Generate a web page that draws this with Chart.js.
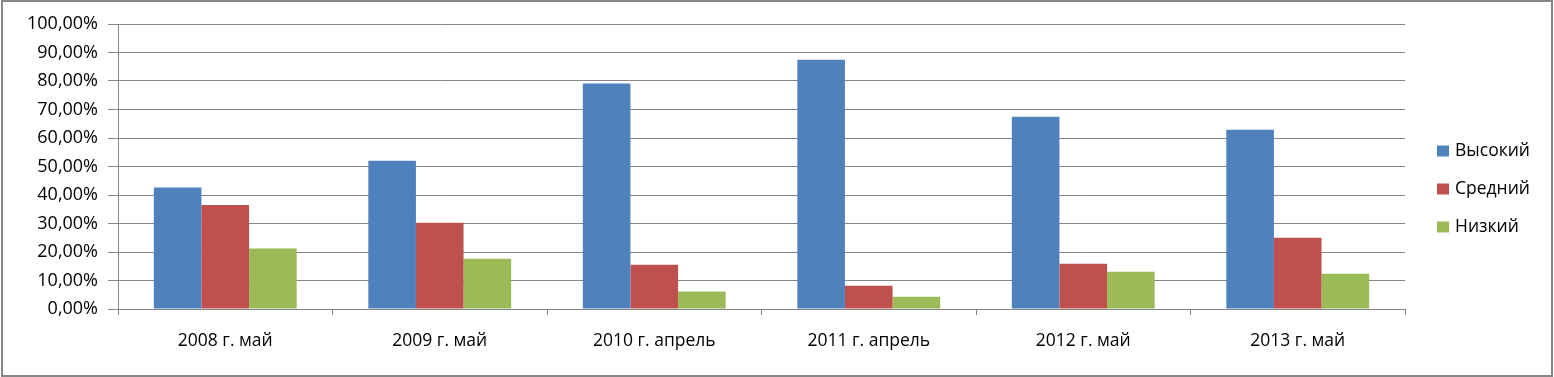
<!DOCTYPE html>
<html lang="ru">
<head>
  <meta charset="UTF-8">
  <title>Уровни</title>
  <script src="https://cdn.jsdelivr.net/npm/chart.js"></script>
  <style>
    body { margin: 0; background: white; }
    canvas { display: block; }
  </style>
</head>
<body>
<canvas id="chart" width="1554" height="377"></canvas>
<script>
  const years = ["2008 г. май", "2009 г. май", "2010 г. апрель", "2011 г. апрель", "2012 г. май", "2013 г. май"];
  const seriesNames = ["Высокий", "Средний", "Низкий"];
  const high = [42.6, 52.0, 79.1, 87.5, 67.5, 62.9];
  const mid = [36.5, 30.3, 15.5, 8.2, 15.9, 25.0];
  const low = [21.2, 17.6, 6.1, 4.3, 13.1, 12.4];
  const colors = ["#4F81BD", "#C0504D", "#9BBB59"];

  const font = { family: "'Open Sans', sans-serif", size: 17.5 };
  const yFont = { family: "'Open Sans', sans-serif", size: 18 };
  const gridGray = "#868686";

  // рамка и легенда справа
  const framePlugin = {
    id: "frame",
    afterDraw(chart) {
      const c = chart.ctx;
      c.save();
      c.strokeStyle = gridGray;
      c.lineWidth = 2;
      c.strokeRect(2, 1, 1550, 375);
      c.font = font.size + "px " + font.family;
      c.textBaseline = "middle";
      chart.data.datasets.forEach((ds, i) => {
        const y = 151 + i * 38;
        c.fillStyle = ds.backgroundColor;
        c.fillRect(1437, y - 5.5, 12, 11);
        c.fillStyle = "#000";
        c.fillText(ds.label, 1455, y);
      });
      c.restore();
    }
  };

  new Chart(document.getElementById("chart"), {
    type: "bar",
    data: {
      labels: years,
      datasets: [
        { label: seriesNames[0], data: high, backgroundColor: colors[0] },
        { label: seriesNames[1], data: mid, backgroundColor: colors[1] },
        { label: seriesNames[2], data: low, backgroundColor: colors[2] }
      ]
    },
    options: {
      responsive: false,
      animation: false,
      categoryPercentage: 0.666,
      barPercentage: 1,
      layout: { padding: { left: 0, right: 149, top: 24, bottom: 0 } },
      plugins: { legend: { display: false }, tooltip: { enabled: false } },
      scales: {
        x: {
          grid: { drawOnChartArea: false, drawTicks: true, tickLength: 6, color: gridGray },
          border: { color: gridGray },
          ticks: { color: "#000", font: font, padding: 16, maxRotation: 0 },
          afterFit(scale) { scale.height = 68; }
        },
        y: {
          min: 0,
          max: 100,
          grid: { color: gridGray, tickLength: 10 },
          border: { color: gridGray },
          ticks: {
            stepSize: 10,
            color: "#000",
            font: yFont,
            padding: 10,
            callback: v => v.toFixed(2).replace(".", ",") + "%"
          },
          afterFit(scale) { scale.width = 118; }
        }
      }
    },
    plugins: [framePlugin]
  });
</script>
</body>
</html>
